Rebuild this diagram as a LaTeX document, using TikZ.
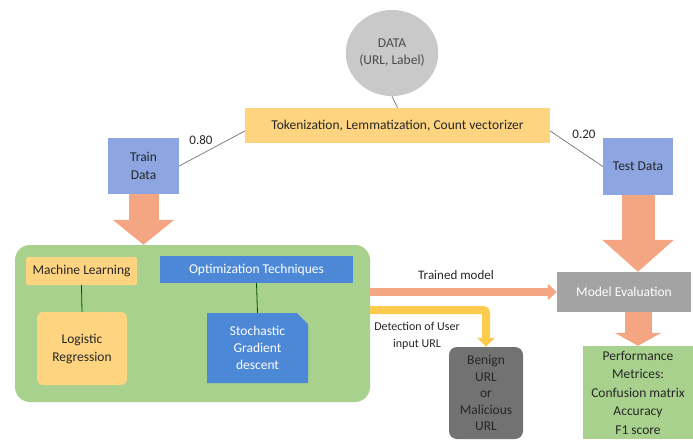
\documentclass[tikz,border=0pt]{standalone}
\usepackage{fontspec}
\setmainfont{Carlito}
\usetikzlibrary{arrows.meta,shapes.geometric,shapes.misc}
\definecolor{txt}{HTML}{262626}
\definecolor{lineg}{HTML}{808080}
\definecolor{fatorange}{HTML}{F4A582}
\definecolor{yel}{HTML}{FFCB4F}
\definecolor{lorange}{HTML}{FFD480}
\definecolor{bluebox}{HTML}{8DA6E2}
\definecolor{optblue}{HTML}{4C88D6}
\definecolor{contgreen}{HTML}{A9D18E}
\definecolor{evalgray}{HTML}{A3A3A3}
\definecolor{darkgray}{HTML}{727272}
\definecolor{circgray}{HTML}{C9C9C9}
\begin{document}
\begin{tikzpicture}[x=1pt,y=-1pt,
  every node/.style={font=\fontsize{13.5}{18}\selectfont, text=txt, align=center, inner sep=1pt},
  thin line/.style={draw=lineg, line width=0.8pt},
  green line/.style={draw=black!70!green, line width=0.8pt},
  fat/.style={draw=fatorange, line width=30pt, -{Triangle[width=60pt,length=25pt]}},
  fatsmall/.style={draw=fatorange, line width=27pt, -{Triangle[width=46pt,length=13pt]}},
  databox/.style={rectangle, fill=bluebox, minimum width=71pt, minimum height=56pt},
  mlbox/.style={rectangle, fill=lorange, rounded corners=2pt},
  lbl/.style={font=\fontsize{13}{16}\selectfont}
]
\useasboundingbox (0,0) rectangle (693,439);
\fill[white] (0,0) rectangle (693,439);

% DATA ellipse
\node[ellipse, fill=circgray, minimum width=76pt, minimum height=86pt, inner sep=0pt, text=black!70, font=\fontsize{13.5}{17}\selectfont] (data) at (392,53) {DATA\\(URL, Label)};
\node[rectangle, fill=lorange, minimum width=305pt, minimum height=35pt] (tok) at (397.5,125.5) {Tokenization, Lemmatization, Count vectorizer};
\draw[thin line] (data.south) -- (tok.north);

% Train / Test
\node[databox] (train) at (143.5,166) {Train\\Data};
\node[databox, minimum width=70pt, minimum height=57pt] (test) at (638,166.5) {Test Data};
\draw[thin line] (tok.west |- 0,131) -- (train.east);
\draw[thin line] (tok.east |- 0,131) -- (test.west);
\node[lbl] (l80) at (201,140) {0.80};
\node[lbl] (l20) at (584,134) {0.20};

% green container
\node[rectangle, fill=contgreen, rounded corners=15pt, minimum width=355pt, minimum height=157pt] (cont) at (192.5,323.5) {};
\node[mlbox, minimum width=111pt, minimum height=28pt] (ml) at (81.5,271) {Machine Learning};
\node[rectangle, fill=lorange, rounded corners=6pt, minimum width=90pt, minimum height=73pt] (logreg) at (82,348.5) {Logistic\\Regression};
\draw[green line] (ml.south) -- (logreg.north);
\node[rectangle, fill=optblue, minimum width=193pt, minimum height=27pt, text=white] (opt) at (256.5,269.5) {Optimization Techniques};
\node[chamfered rectangle, chamfered rectangle corners=north east, chamfered rectangle xsep=8pt, fill=optblue, minimum width=101pt, minimum height=70pt, text=white, font=\fontsize{13.5}{17}\selectfont] (sgd) at (257.5,348) {Stochastic\\Gradient\\descent};
\draw[green line] (opt.south) -- (sgd.north);

% fat arrow train -> container
\draw[fat] (train.south) -- (train.south |- cont.north);

% Model evaluation and performance
\node[rectangle, fill=evalgray, minimum width=134pt, minimum height=40pt, text=white] (eval) at (624,292) {Model Evaluation};
\node[rectangle, fill=contgreen, minimum width=110pt, minimum height=93pt, font=\fontsize{13.5}{18.5}\selectfont] (perf) at (638,392.5) {Performance\\Metrices:\\Confusion matrix\\Accuracy\\F1 score};
\draw[fat, line width=33pt, -{Triangle[width=70pt,length=32pt]}] (test.south) -- (test.south |- eval.north);
\draw[fatsmall] (perf.north |- eval.south) -- (perf.north);

% Benign box
\node[rectangle, fill=darkgray, rounded corners=8pt, minimum width=74pt, minimum height=92pt, text=black!85, font=\fontsize{13.5}{16.5}\selectfont] (benign) at (486,393) {Benign\\URL\\or\\Malicious\\URL};

% trained model arrow
\draw[draw=fatorange, line width=8pt, -{Triangle[width=16pt,length=9pt]}] (cont.east |- 0,292) -- (eval.west |- 0,292);
\node[lbl] (ltm) at (456,275) {Trained model};

% detection arrow
\coordinate (ys) at (cont.east |- 0,310);
\draw[draw=yel, line width=8pt, rounded corners=3pt, -{Triangle[width=17pt,length=9pt]}] (ys) -| (benign.north);
\node[lbl, font=\fontsize{12}{17}\selectfont] (ldet) at (417,336) {Detection of User\\input URL};
\end{tikzpicture}
\end{document}
